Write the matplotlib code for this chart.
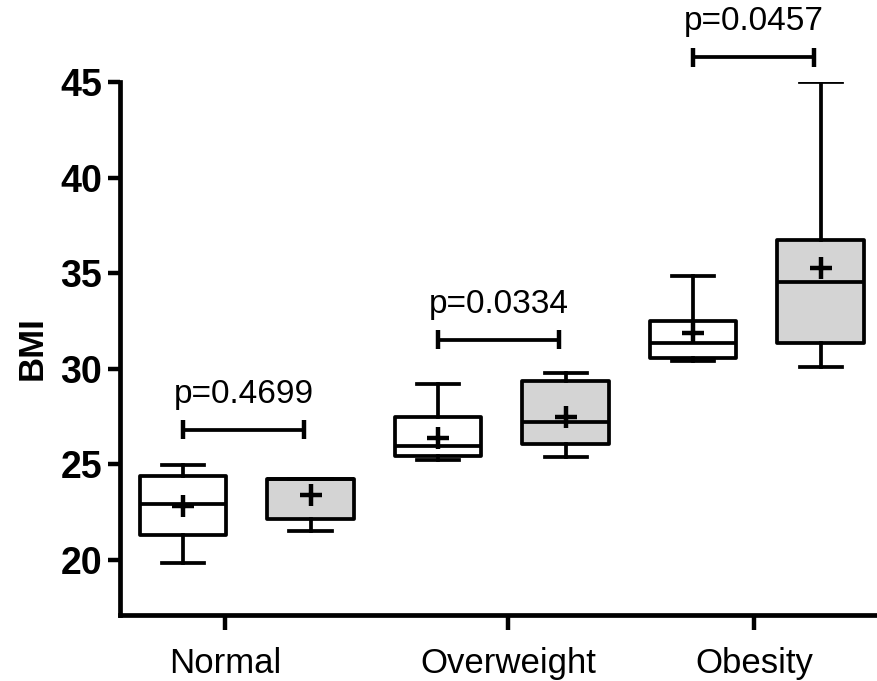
import matplotlib
matplotlib.use("Agg")
import matplotlib.pyplot as plt
import matplotlib.transforms as mtransforms

# BMI box plots, two groups per category (white / gray)
categories = ["Normal", "Overweight", "Obesity"]
whislo = [19.84, 21.5, 25.23, 25.39, 30.4, 30.1]
q1 = [21.26, 22.14, 25.44, 26.07, 30.56, 31.35]
med = [22.93, 24.2, 25.96, 27.2, 31.35, 34.54]
q3 = [24.39, 24.24, 27.48, 29.36, 32.5, 36.74]
whishi = [24.97, 24.24, 29.2, 29.78, 34.85, 45.0]
means = [22.8, 23.4, 26.38, 27.48, 31.87, 35.27]
p_values = ["p=0.4699", "p=0.0334", "p=0.0457"]
bracket_y = [26.8, 31.5, 46.3]
cat_ticks = [0.33, 2.55, 4.48]

plt.rcParams['font.family'] = ['Liberation Sans', 'DejaVu Sans']

fig = plt.figure(figsize=(8.78, 6.81), dpi=100)
ax = fig.add_axes([0.1367, 0.097, 0.8633, 0.7826])

stats = []
for i in range(len(med)):
    stats.append(dict(whislo=whislo[i], q1=q1[i], med=med[i], q3=q3[i],
                      whishi=whishi[i], mean=means[i]))
positions = list(range(len(stats)))

lw = 2.7
bp = ax.bxp(stats, positions=positions, widths=0.68, patch_artist=True,
            showmeans=True, showfliers=False,
            boxprops=dict(linewidth=lw, edgecolor='black'),
            medianprops=dict(color='black', linewidth=lw),
            whiskerprops=dict(color='black', linewidth=lw),
            capprops=dict(color='black', linewidth=lw),
            capwidths=0.33,
            meanprops=dict(marker='+', markersize=16, markeredgewidth=3.2,
                           markeredgecolor='black'))
for j, box in enumerate(bp['boxes']):
    box.set_facecolor('white' if j % 2 == 0 else '#d4d4d4')
    box.set_joinstyle('round')

# significance brackets
for k in range(len(categories)):
    x0 = 2 * k
    x1 = 2 * k + 0.95
    y = bracket_y[k]
    ax.plot([x0, x1], [y, y], color='black', lw=2.7, clip_on=False,
            solid_capstyle='butt')
    for xx in (x0, x1):
        ax.plot([xx, xx], [y - 0.5, y + 0.5], color='black', lw=3.2,
                clip_on=False, solid_capstyle='butt')
    ax.text((x0 + x1) / 2, y + 1.85, p_values[k], ha='center', va='center',
            fontsize=24, clip_on=False)

ax.set_xlim(-0.494, 5.45)
ax.set_ylim(17.1, 45)
ax.set_yticks([20, 25, 30, 35, 40, 45])
ax.set_xticks(cat_ticks)
ax.set_xticklabels(categories, fontsize=25)
# first label sits a bit right of its tick in the reference
lab0 = ax.get_xticklabels()[0]
lab0.set_transform(lab0.get_transform() +
                   mtransforms.ScaledTranslation(0.12, 0, fig.dpi_scale_trans))
for lab in ax.get_yticklabels():
    lab.set_fontsize(27)
    lab.set_fontweight('bold')
ax.set_ylabel("BMI", fontsize=25, fontweight='bold', labelpad=8)

for side in ('top', 'right'):
    ax.spines[side].set_visible(False)
for side in ('left', 'bottom'):
    ax.spines[side].set_linewidth(3.4)
ax.tick_params(axis='y', direction='out', length=9, width=3.2, pad=4)
ax.tick_params(axis='x', direction='out', length=11, width=3.2, pad=12)

fig.savefig("out.png", dpi=100)
